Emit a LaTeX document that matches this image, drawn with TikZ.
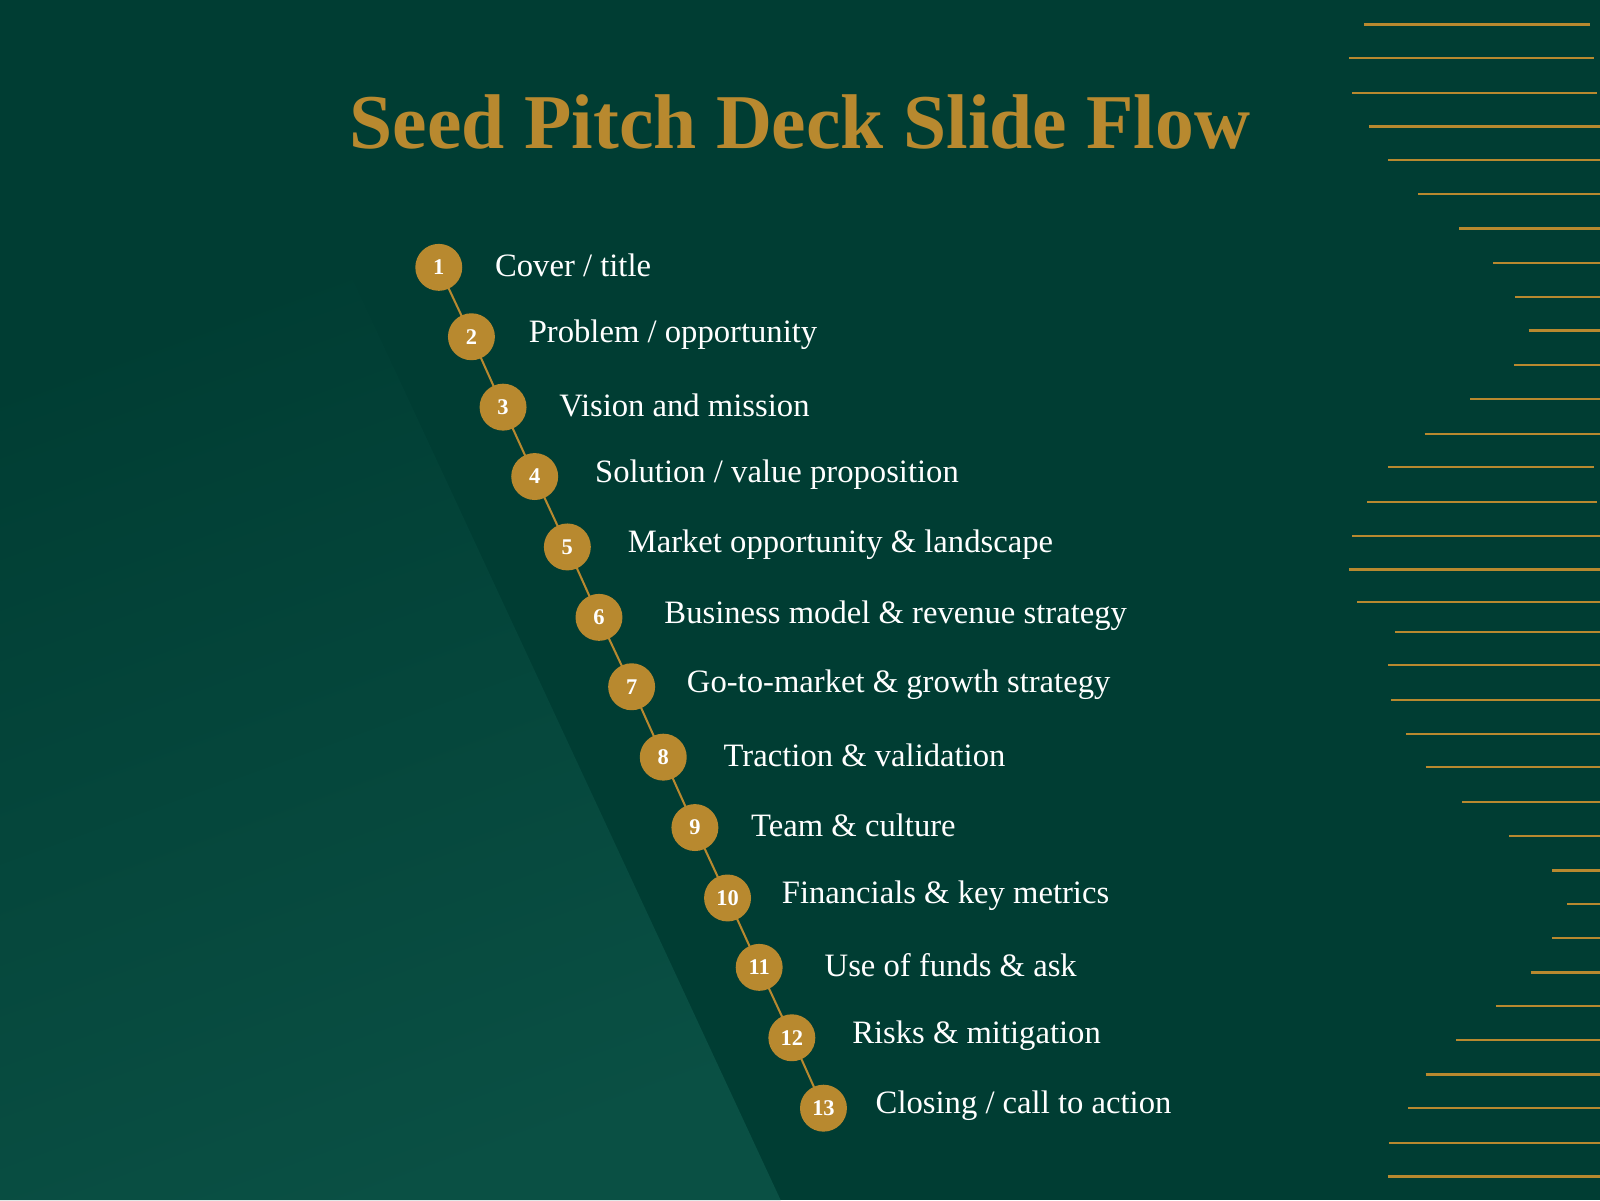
\documentclass[tikz,border=0pt]{standalone}
\usepackage{fontspec}
\setmainfont{Liberation Serif}
\definecolor{bgd}{HTML}{003D33}
\definecolor{bgl}{HTML}{0A5044}
\definecolor{gold}{HTML}{B8892F}
\begin{document}
\begin{tikzpicture}[x=1pt,y=-1pt,
  stepnum/.style={circle,fill=gold,minimum size=46pt,inner sep=0pt,text=white,font=\bfseries\fontsize{22}{24}\selectfont},
  steplabel/.style={anchor=west,text=white,font=\fontsize{32}{36}\selectfont,inner sep=0pt},
  link/.style={draw=gold,line width=2pt},
  deco/.style={draw=gold,line width=2.2pt}]
\useasboundingbox (0,0) rectangle (1568,1176);
\fill[bgd] (0,0) rectangle (1568,1176);
\shade[bottom color=bgl,top color=bgd,shading angle=20] (0,240) -- (330,240) -- (765,1176) -- (0,1176) -- cycle;
\node[text=gold,font=\bfseries\fontsize{76}{80}\selectfont] (title) at (784,120) {Seed Pitch Deck Slide Flow};
\foreach \i/\x/\y/\lx/\t in {
 1/430/262/485/{Cover / title},
 2/462/330/518/{Problem / opportunity},
 3/493/399/548/{Vision and mission},
 4/524/467/583/{Solution / value proposition},
 5/556/536/615/{Market opportunity \& landscape},
 6/587/605/651/{Business model \& revenue strategy},
 7/619/673/673/{Go-to-market \& growth strategy},
 8/650/742/709/{Traction \& validation},
 9/681/811/736/{Team \& culture},
 10/713/880/766/{Financials \& key metrics},
 11/744/948/808/{Use of funds \& ask},
 12/776/1017/835/{Risks \& mitigation},
 13/807/1086/858/{Closing / call to action}}{
  \coordinate (c\i) at (\x,\y);
  \node[steplabel] (l\i) at (\lx,\y-2) {\t};
}
\foreach \a/\b in {1/2,2/3,3/4,4/5,5/6,6/7,7/8,8/9,9/10,10/11,11/12,12/13}
  \draw[link] (c\a) -- (c\b);
\foreach \i in {1,...,13} \node[stepnum] (n\i) at (c\i) {\i};
\foreach \y/\x/\r in {24/1337/1558,57/1322/1562,91/1325/1565,124/1342/1568,157/1360/1568,190/1390/1568,224/1430/1568,258/1463/1568,291/1485/1568,324/1498/1568,358/1484/1568,391/1441/1568,425/1396/1568,458/1360/1562,492/1340/1565,525/1325/1568,558/1322/1568,590/1330/1568,619/1367/1568,652/1360/1568,686/1363/1568,719/1378/1568,752/1397/1568,786/1433/1568,819/1479/1568,853/1521/1568,886/1536/1568,919/1521/1568,953/1500/1568,986/1466/1568,1019/1427/1568,1053/1397/1568,1086/1380/1568,1120/1361/1568,1153/1360/1568}
  \draw[deco] (\x,\y) -- (\r,\y);
\end{tikzpicture}
\end{document}
